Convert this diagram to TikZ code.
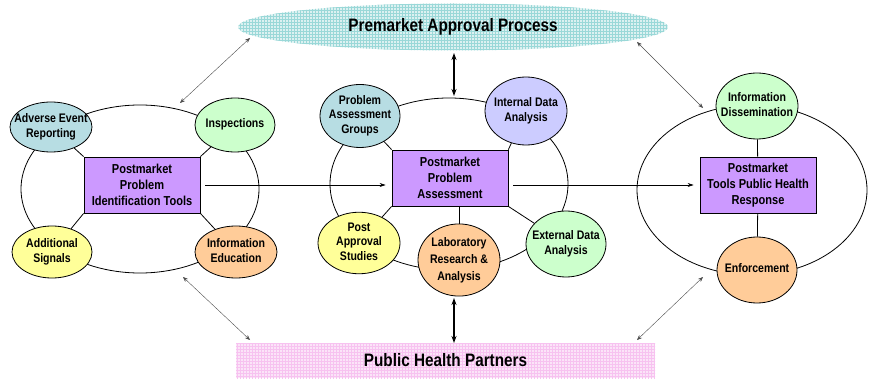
\documentclass[tikz,border=0pt]{standalone}
\usepackage{fontspec}
\setmainfont{Liberation Sans}[FakeStretch=0.85]
\usetikzlibrary{arrows.meta, shapes.geometric, patterns}
\definecolor{mTeal}{HTML}{B7DDE3}
\definecolor{mGreen}{HTML}{CCFFCC}
\definecolor{mYellow}{HTML}{FFFF99}
\definecolor{mOrange}{HTML}{FFCC99}
\definecolor{mLilac}{HTML}{CCCCFF}
\definecolor{mPurple}{HTML}{CC99FF}
\definecolor{mCyanGrid}{HTML}{9AD8D8}
\definecolor{mPinkGrid}{HTML}{F7C2F0}
% keeps the bubble text from widening the ellipse
\newcommand{\bubtext}[1]{\makebox[0pt]{\begin{tabular}{@{}c@{}}#1\end{tabular}}}
\tikzset{
  bubble/.style={ellipse, draw, line width=0.8pt, inner sep=0pt,
    minimum width=82pt, minimum height=62pt,
    font=\fontsize{12.4}{14.5}\selectfont\bfseries},
  toolbox/.style={rectangle, draw, line width=0.8pt, fill=mPurple,
    minimum width=116pt, minimum height=56pt, align=center, inner sep=2pt,
    font=\fontsize{13}{16}\selectfont\bfseries},
  band/.style={inner sep=0pt, font=\fontsize{18}{20}\selectfont\bfseries},
  link/.style={line width=0.8pt},
  flow/.style={-{Stealth[length=6pt, width=4pt]}, line width=0.6pt},
  partner/.style={{Stealth[length=5pt, width=4pt]}-{Stealth[length=5pt, width=4pt]},
    line width=0.4pt, black!70},
  feed/.style={{Stealth[length=7pt, width=5pt]}-{Stealth[length=7pt, width=5pt]},
    line width=1.3pt},
}

\begin{document}
\begin{tikzpicture}[x=1pt, y=-1pt]
  \useasboundingbox (0,0) rectangle (869,379);

  % bands at top and bottom
  \node[band, ellipse, minimum width=430pt, minimum height=47pt,
    preaction={fill=mCyanGrid!35}, pattern=grid, pattern color=mCyanGrid]
    (premarket) at (453,27) {Premarket Approval Process};
  \node[band, rectangle, minimum width=419pt, minimum height=35pt,
    preaction={fill=mPinkGrid!45}, pattern=grid, pattern color=mPinkGrid]
    (partners) at (445.5,360.5) {Public Health Partners};

  % identification tools
  \draw[link] (140,189) ellipse [x radius=119, y radius=84];
  \node[toolbox] (idtools) at (142,185) {Postmarket\\Problem\\Identification Tools};
  \node[bubble, fill=mTeal, minimum height=50pt] (adverse) at (51,127) {\bubtext{Adverse Event\\Reporting}};
  \node[bubble, fill=mGreen, minimum width=80pt, minimum height=54pt] (inspect) at (235,125) {\bubtext{Inspections}};
  \node[bubble, fill=mYellow, minimum width=80pt, minimum height=52pt] (signals) at (52,252) {\bubtext{Additional\\Signals}};
  \node[bubble, fill=mOrange, minimum height=52pt] (infoedu) at (236,252) {\bubtext{Information\\Education}};
  \draw[link] (adverse) -- (idtools.north west);
  \draw[link] (inspect) -- (idtools.north east);
  \draw[link] (signals) -- (idtools.south west);
  \draw[link] (infoedu) -- (idtools.south east);

  % assessment
  \draw[link] (449,184) ellipse [x radius=119, y radius=86];
  \node[toolbox] (assess) at (450,178) {Postmarket\\Problem\\Assessment};
  \node[bubble, fill=mTeal, minimum width=80pt, minimum height=63pt] (groups) at (360,116) {\bubtext{Problem\\Assessment\\Groups}};
  \node[bubble, fill=mLilac, minimum height=68pt] (internal) at (526,111) {\bubtext{Internal Data\\Analysis}};
  \node[bubble, fill=mYellow, minimum height=60pt] (postappr) at (359,243) {\bubtext{Post\\Approval\\Studies}};
  \node[bubble, fill=mOrange, minimum height=66pt, font=\fontsize{12.4}{17}\selectfont\bfseries] (lab) at (459,260) {\bubtext{Laboratory\\Research \&\\Analysis}};
  \node[bubble, fill=mGreen, minimum width=80pt, minimum height=66pt] (external) at (566,244) {\bubtext{External Data\\Analysis}};
  \draw[link] (groups) -- (assess.north west);
  \draw[link] (internal) -- (assess.north east);
  \draw[link] (postappr) -- (assess.south west);
  \draw[link] (external) -- (assess.south east);
  \draw[link] (lab) -- (lab |- assess.south);

  % public health response
  \draw[link] (752,190) ellipse [x radius=115, y radius=85];
  \node[toolbox] (response) at (758,185) {Postmarket\\Tools Public Health\\Response};
  \node[bubble, fill=mGreen, minimum height=66pt] (dissem) at (757,106) {\bubtext{Information\\Dissemination}};
  \node[bubble, fill=mOrange, minimum width=80pt, minimum height=66pt] (enforce) at (757,270) {\bubtext{Enforcement}};
  \draw[link] (dissem) -- (response);
  \draw[link] (response) -- (enforce);

  % flow between the three stages
  \draw[flow, shorten <=5pt, shorten >=6pt] (idtools.east) -- (idtools.east -| assess.west);
  \draw[flow, shorten <=5pt, shorten >=6pt] (assess.east |- response.west) -- (response.west);

  % ties to the bands
  \coordinate (idUp) at (180,103);
  \coordinate (preLeft) at (250,38);
  \coordinate (preRight) at (637,42);
  \coordinate (respUp) at (703,108);
  \coordinate (idDown) at (183,277);
  \coordinate (partLeft) at (250,340);
  \coordinate (partRight) at (637,340);
  \coordinate (respDown) at (703,277);
  \coordinate (preMid) at (454,53);
  \coordinate (assessUp) at (454,96);
  \coordinate (assessDown) at (454,298);
  \coordinate (partMid) at (454,343);
  \draw[partner] (idUp) -- (preLeft);
  \draw[partner] (preRight) -- (respUp);
  \draw[partner] (idDown) -- (partLeft);
  \draw[partner] (partRight) -- (respDown);
  \draw[feed] (preMid) -- (assessUp);
  \draw[feed] (assessDown) -- (partMid);
\end{tikzpicture}
\end{document}
